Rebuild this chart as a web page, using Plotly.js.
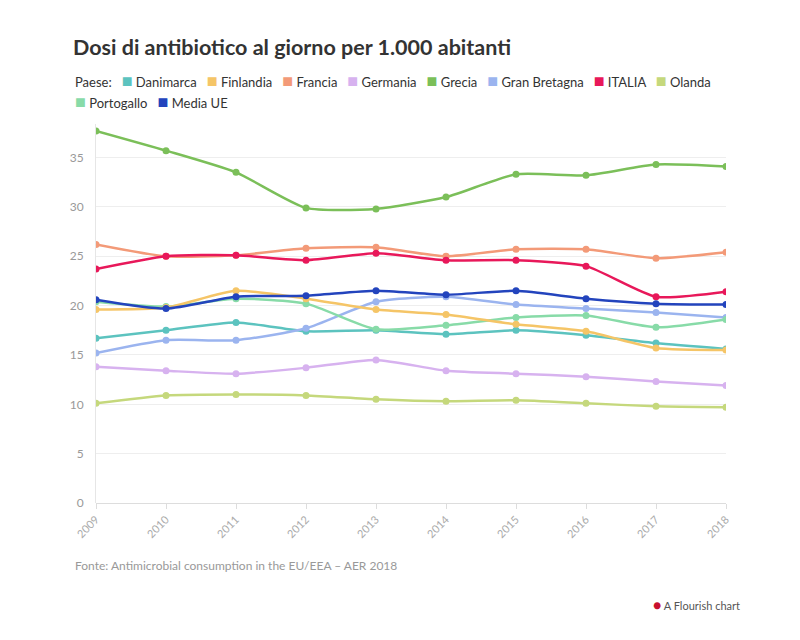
<!DOCTYPE html>
<html><head><meta charset="utf-8">
<script src="https://cdn.plot.ly/plotly-3.0.1.min.js"></script>
<style>body{margin:0;background:#fff}#c{width:800px;height:640px}</style>
</head><body><div id="c"></div>
<script>
const years = [2009,2010,2011,2012,2013,2014,2015,2016,2017,2018];
const seriesNames = ["Danimarca","Finlandia","Francia","Germania","Grecia","Gran Bretagna","ITALIA","Olanda","Portogallo","Media UE"];
const danimarca   = [16.7,17.5,18.3,17.4,17.5,17.1,17.5,17.0,16.2,15.6];
const finlandia   = [19.6,19.8,21.5,20.7,19.6,19.1,18.1,17.4,15.7,15.5];
const francia     = [26.2,25.0,25.1,25.8,25.9,25.0,25.7,25.7,24.8,25.4];
const germania    = [13.8,13.4,13.1,13.7,14.5,13.4,13.1,12.8,12.3,11.9];
const grecia      = [37.7,35.7,33.5,29.9,29.8,31.0,33.3,33.2,34.3,34.1];
const granBretagna= [15.2,16.5,16.5,17.7,20.4,20.9,20.1,19.7,19.3,18.8];
const italia      = [23.7,25.0,25.1,24.6,25.3,24.6,24.6,24.0,20.9,21.4];
const olanda      = [10.1,10.9,11.0,10.9,10.5,10.3,10.4,10.1,9.8,9.7];
const portogallo  = [20.4,19.9,20.7,20.2,17.6,18.0,18.8,19.0,17.8,18.6];
const mediaUE     = [20.6,19.7,20.9,21.0,21.5,21.1,21.5,20.7,20.2,20.1];
const values = [danimarca,finlandia,francia,germania,grecia,granBretagna,italia,olanda,portogallo,mediaUE];
const colors = ["#5cc3bf","#f5c567","#f39a78","#d7b2ef","#7bbf59","#9bb4ef","#e8185a","#c5d87c","#88dba8","#2344bd"];
const legendTitle = "Paese:";

const traces = [];
const order = [7,3,0,5,8,1,2,4,6,9];
order.forEach(i => {
  traces.push({
    x: years, y: values[i], name: seriesNames[i], type: 'scatter', mode: 'lines+markers',
    line: {color: colors[i], width: 2.5, shape: 'spline', smoothing: 0.6},
    marker: {color: colors[i], size: 7},
    showlegend: false
  });
});

function entry(i) {
  return '<span style="color:' + colors[i] + ';font-size:18px">■</span>\u00a0' + seriesNames[i];
}
const sep = '\u00a0\u00a0\u00a0';
const row1 = legendTitle + '\u00a0\u00a0\u00a0' + [0,1,2,3,4,5,6,7].map(entry).join(sep);
const row2 = [8,9].map(entry).join(sep);

const layout = {
  width: 800, height: 640,
  margin: {l: 96, r: 74, t: 124, b: 137},
  paper_bgcolor: '#fff', plot_bgcolor: '#fff',
  font: {family: 'Lato, "Source Sans Pro", sans-serif', color: '#333'},
  title: {text: '<b>Dosi di antibiotico al giorno per 1.000 abitanti</b>', x: 73/800, xanchor: 'left', y: 1 - 47/640, yanchor: 'middle',
          font: {size: 21.5, color: '#333', family: 'Lato, sans-serif'}},
  showlegend: false,
  xaxis: {range: [2009, 2018], tickvals: years, ticktext: years.map(String), tickangle: -45,
          showgrid: false, zeroline: false, showline: false, ticks: 'outside', ticklen: 5, tickcolor: '#ddd',
          tickfont: {size: 11, color: '#aaa'}, fixedrange: true},
  yaxis: {range: [0, 38.4], tickvals: [0,5,10,15,20,25,30,35], showgrid: true, gridcolor: '#eeeeee',
          zeroline: true, zerolinecolor: '#dddddd', zerolinewidth: 1, showline: true, linecolor: '#e6e6e6',
          ticks: '', tickfont: {size: 12, color: '#999'}, ticklabelstandoff: 9, fixedrange: true},
  annotations: [
    {text: row1, xref: 'paper', yref: 'paper', x: (73-96)/630, y: (503-80)/379, xanchor: 'left', yanchor: 'middle',
     showarrow: false, font: {size: 13, color: '#333'}},
    {text: row2, xref: 'paper', yref: 'paper', x: (73-96)/630, y: (503-101)/379, xanchor: 'left', yanchor: 'middle',
     showarrow: false, font: {size: 13, color: '#333'}},
    {text: 'Fonte: Antimicrobial consumption in the EU/EEA – AER 2018', xref: 'paper', yref: 'paper',
     x: (73-96)/630, y: -(565-503)/379, xanchor: 'left', yanchor: 'middle', showarrow: false,
     font: {size: 12, color: '#999'}},
    {text: '<span style="color:#c8102e;font-size:14px">●</span> A Flourish chart', xref: 'paper', yref: 'paper',
     x: (742-96)/630, y: -(604-503)/379, xanchor: 'right', yanchor: 'middle', showarrow: false,
     font: {size: 11, color: '#555'}}
  ]
};
Plotly.newPlot('c', traces, layout, {displayModeBar: false, staticPlot: true});
</script></body></html>
